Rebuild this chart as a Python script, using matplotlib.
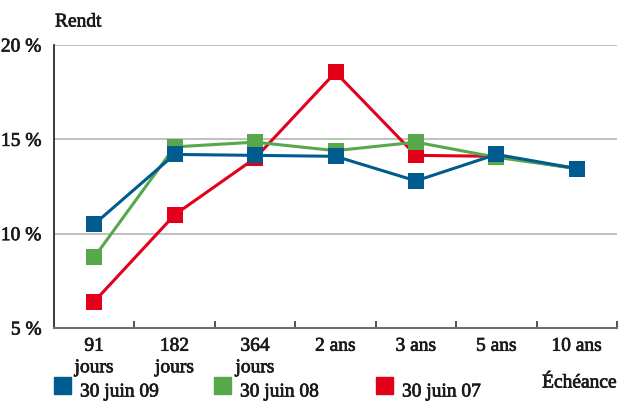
import matplotlib

matplotlib.use("Agg")
import matplotlib.pyplot as plt
import matplotlib.patheffects as pe
from matplotlib.ticker import FixedLocator, NullFormatter

plt.rcParams["font.family"] = ["Liberation Serif", "DejaVu Serif"]
plt.rcParams["font.size"] = 14
# reference text is a touch heavier than Liberation Serif regular
BOLDER = [pe.withStroke(linewidth=0.5, foreground="#1a1a1a")]

categories = ["91\njours", "182\njours", "364\njours", "2 ans", "3 ans", "5 ans", "10 ans"]
rendt_jun09 = [10.5, 14.2, 14.15, 14.1, 12.8, 14.2, 13.45]
rendt_jun08 = [8.75, 14.6, 14.85, 14.4, 14.85, 14.05, 13.45]
rendt_jun07 = [6.4, 11.0, 14.0, 18.55, 14.15, 14.1, 13.45]
y_ticks = [5, 10, 15, 20]

BLUE = "#005b8f"
GREEN = "#56a84b"
RED = "#e2001a"
TEXT = "#1a1a1a"

fig = plt.figure(figsize=(6.19, 4.01), dpi=100)
ax = fig.add_axes([54 / 619, 73 / 401, 563 / 619, 283 / 401])

x = list(range(len(categories)))
series = [
    (rendt_jun07, RED, "30 juin 07"),
    (rendt_jun08, GREEN, "30 juin 08"),
    (rendt_jun09, BLUE, "30 juin 09"),
]
for vals, color, label in series:
    ax.plot(x, vals, color=color, linewidth=2.2, marker="s", markersize=11.5,
            markeredgewidth=0, label=label)

ax.set_xlim(-0.5, len(categories) - 0.5)
ax.set_ylim(5, 20)

for y in y_ticks[1:]:
    ax.axhline(y, color="#b5b5b5", linewidth=1.2, zorder=0)

ax.spines["top"].set_visible(False)
ax.spines["right"].set_visible(False)
ax.spines["left"].set_color(TEXT)
ax.spines["left"].set_linewidth(1.2)
ax.spines["bottom"].set_color("#707070")
ax.spines["bottom"].set_linewidth(1.5)

ax.set_yticks(y_ticks)
ax.set_yticklabels([f"{v} %" for v in y_ticks])
ax.tick_params(axis="y", length=0, pad=9, labelcolor=TEXT)

ax.xaxis.set_major_locator(FixedLocator([i + 0.5 for i in range(len(categories))]))
ax.xaxis.set_major_formatter(NullFormatter())
ax.xaxis.set_minor_locator(FixedLocator(x))
ax.set_xticklabels(categories, minor=True, linespacing=1.35)
ax.tick_params(axis="x", which="major", direction="in", length=5, width=1.2, color="#333333")
ax.tick_params(axis="x", which="minor", length=0, pad=7, labelcolor=TEXT)

for lbl in ax.get_yticklabels() + ax.get_xticklabels(minor=True):
    lbl.set_path_effects(BOLDER)

fig.text(55 / 619, 1 - 22 / 401, "Rendt", ha="left", va="center", color=TEXT, path_effects=BOLDER)
fig.text(617 / 619, 1 - 383 / 401, "Échéance", ha="right", va="center", color=TEXT,
         path_effects=BOLDER)

legend_items = [(BLUE, "30 juin 09", 54), (GREEN, "30 juin 08", 214), (RED, "30 juin 07", 376)]
for color, label, px in legend_items:
    fig.patches.append(plt.Rectangle((px / 619, 7 / 401), 17 / 619, 17 / 401,
                                     transform=fig.transFigure, color=color))
    fig.text((px + 26) / 619, 1 - 392 / 401, label, ha="left", va="center", color=TEXT,
             path_effects=BOLDER)

fig.savefig("out.png", dpi=100)
